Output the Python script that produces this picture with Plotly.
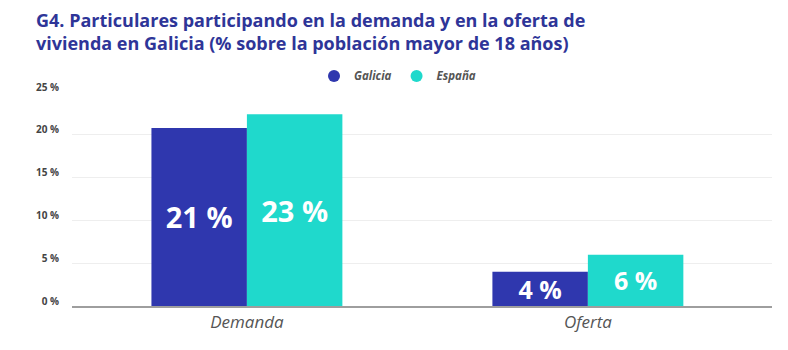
import plotly.graph_objects as go

categories = ["Demanda", "Oferta"]
galicia = [20.8, 4.0]
espana = [22.4, 6.0]
galicia_labels = ["21 %", "4 %"]
espana_labels = ["23 %", "6 %"]
y_ticks = [0, 5, 10, 15, 20, 25]
title_text = ("G4. Particulares participando en la demanda y en la oferta de<br>"
              "vivienda en Galicia (% sobre la población mayor de 18 años)")

C_GAL = "#2F37AE"
C_ESP = "#1FD9CC"

fig = go.Figure()
fig.add_trace(go.Bar(
    x=categories, y=galicia, name="Galicia", marker=dict(color=C_GAL, line=dict(width=0)),
    text=galicia_labels, textposition="inside", insidetextanchor="middle", textangle=0,
    constraintext="none", textfont=dict(family="Open Sans", size=[29, 25], color="white", weight="bold"),
    showlegend=False, hoverinfo="skip"))
fig.add_trace(go.Bar(
    x=categories, y=espana, name="España", marker=dict(color=C_ESP, line=dict(width=0)),
    text=espana_labels, textposition="inside", insidetextanchor="middle", textangle=0,
    constraintext="none", textfont=dict(family="Open Sans", size=[29, 25], color="white", weight="bold"),
    showlegend=False, hoverinfo="skip"))
for nm, col in [("Galicia", C_GAL), ("España", C_ESP)]:
    fig.add_trace(go.Scatter(x=[None], y=[None], mode="markers", name=nm,
                             marker=dict(symbol="circle", size=10, color=col)))

fig.add_annotation(text=title_text, xref="paper", yref="paper",
                   x=-38/700, xanchor="left", y=1 + 86/214, yanchor="top",
                   align="left", showarrow=False,
                   font=dict(family="Open Sans", size=18, color="#2E3598", weight="bold"))

fig.update_layout(
    width=788, height=350,
    margin=dict(l=72, r=16, t=92, b=44),
    paper_bgcolor="white", plot_bgcolor="white",
    barmode="group", bargap=0.44, bargroupgap=0,
    legend=dict(orientation="h", x=0.465, xanchor="center", y=1.075, yanchor="middle",
                font=dict(family="Open Sans", size=11.5, color="#555555", style="italic", weight="bold"),
                itemsizing="constant", bgcolor="rgba(0,0,0,0)"),
    xaxis=dict(range=[-0.513, 1.54], showgrid=False, showline=True, linecolor="#9E9E9E", linewidth=2,
               ticks="", tickfont=dict(family="Open Sans", size=17, color="#555555", style="italic")),
    yaxis=dict(range=[0, 25], tickvals=y_ticks, ticktext=[f"{v} %" for v in y_ticks],
               showgrid=True, gridcolor="#EEEEEE", gridwidth=1, zeroline=False, showline=False,
               ticks="outside", ticklen=10, tickcolor="rgba(0,0,0,0)", ticklabelshift=-5,
               tickfont=dict(family="Open Sans", size=10, color="#444444", weight="bold")),
)

fig.write_html("out.html")
